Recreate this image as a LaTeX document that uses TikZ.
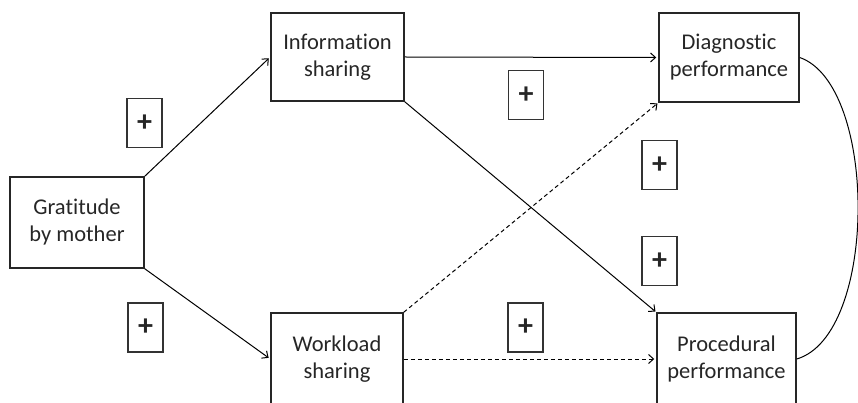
\documentclass[tikz,border=0pt]{standalone}
\usepackage{fontspec}
\setmainfont{Carlito}[RawFeature=-liga]
\usetikzlibrary{arrows.meta}
\begin{document}
\begin{tikzpicture}[x=1pt,y=-1pt,
  box/.style={draw=black!85, line width=1.5pt, rectangle, align=center, inner sep=0pt,
    font=\fontsize{22.5}{27}\selectfont, text=black!85},
  plusbox/.style={draw=black!80, line width=1.3pt, rectangle, inner sep=0pt,
    minimum width=35pt, minimum height=49pt, font=\fontsize{30}{30}\selectfont\bfseries, text=black!85},
  conn/.style={line width=1pt, -{Straight Barb[length=5pt,width=9pt]}},
  dconn/.style={conn, dash pattern=on 4pt off 3pt}]
\useasboundingbox (0,0) rectangle (858,403);
\clip (0,0) rectangle (858,403);
\node[box, minimum width=134pt, minimum height=91pt] (g) at (77,222.5) {Gratitude\\by mother};
\node[box, minimum width=133pt, minimum height=88pt] (info) at (337.5,57) {Information\\sharing};
\node[box, minimum width=140pt, minimum height=89pt] (diag) at (729,57.5) {Diagnostic\\performance};
\node[box, minimum width=132pt, minimum height=92pt] (ws) at (337,359) {Workload\\sharing};
\node[box, minimum width=139pt, minimum height=92pt] (pp) at (726.5,359) {Procedural\\performance};
\node[plusbox] (p1) at (144.5,123) {+};
\node[plusbox] (p2) at (145.5,327.5) {+};
\node[plusbox] (p3) at (525.5,327.5) {+};
\node[plusbox] (p4) at (526,95) {+};
\node[plusbox] (p5) at (659.5,165) {+};
\node[plusbox] (p6) at (659.5,261) {+};
\draw[conn, shorten >=2pt] (g.north east) -- (info.west);
\draw[conn, shorten >=2pt] (g.south east) -- (ws.west);
\draw[conn, shorten >=2pt] (info.east) -- (diag.west);
\draw[conn, shorten >=1pt] (info.south east) -- (pp.north west);
\draw[dconn, shorten >=1pt] (ws.north east) -- (diag.south west);
\draw[dconn, shorten >=2pt] (ws.east) -- (pp.west);
\draw[line width=1pt] (diag.east) .. controls (878,85) and (878,335) .. (pp.east);
\end{tikzpicture}
\end{document}
